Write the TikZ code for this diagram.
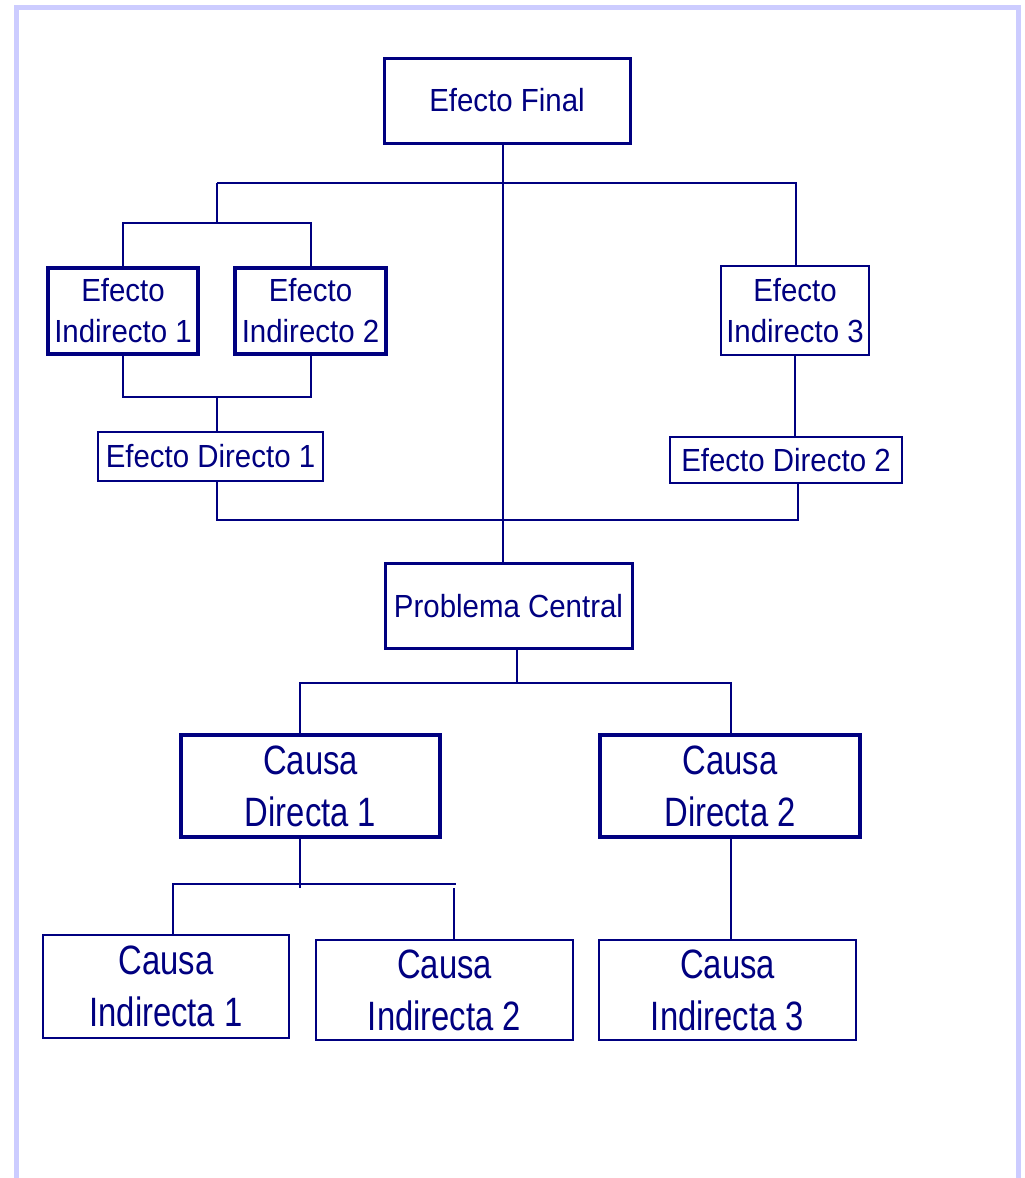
\documentclass[tikz,border=0pt]{standalone}
\usepackage{fontspec}
\setmainfont{Liberation Sans}
\newfontfamily\efont[FakeStretch=0.92]{Liberation Sans}
\newfontfamily\cfont[FakeStretch=0.8]{Liberation Sans}
\definecolor{navyline}{RGB}{0,0,128}
\definecolor{frameline}{RGB}{204,204,255}
\begin{document}
\begin{tikzpicture}[x=1pt,y=-1pt,line width=2pt,draw=navyline,
	box/.style={draw=navyline,text=navyline,align=center,inner sep=0pt},
	efbox/.style={box,font=\efont\fontsize{32}{41}\selectfont},
	cabox/.style={box,font=\cfont\fontsize{41}{52}\selectfont}]
		\useasboundingbox (0,0) rectangle (1025,1178);
		\draw [frameline,line width=5pt] (16,1178) -- (16,7) -- (1018,7) -- (1018,1178);
		
		% efectos
		\node [efbox,line width=3pt,minimum width=246,minimum height=85] (final) at (507,100.5) {Efecto Final};
		\node [efbox,line width=3.5pt,minimum width=150,minimum height=86] (ei1) at (123,311) {Efecto\\Indirecto 1};
		\node [efbox,line width=3.5pt,minimum width=151,minimum height=86] (ei2) at (310.5,311) {Efecto\\Indirecto 2};
		\node [efbox,minimum width=148,minimum height=89] (ei3) at (795,310.5) {Efecto\\Indirecto 3};
		\node [efbox,line width=1.8pt,minimum width=225,minimum height=49] (ed1) at (210.5,456.5) {Efecto Directo 1};
		\node [efbox,minimum width=232,minimum height=46] (ed2) at (786,460) {Efecto Directo 2};
		\node [efbox,line width=3pt,minimum width=247,minimum height=85] (pc) at (508.5,606) {Problema Central};
		
		% causas
		\node [cabox,line width=3.5pt,minimum width=259,minimum height=102] (cd1) at (310.5,786) {Causa\\Directa 1};
		\node [cabox,line width=3.5pt,minimum width=260,minimum height=102] (cd2) at (730,786) {Causa\\Directa 2};
		\node [cabox,line width=2.5pt,minimum width=246,minimum height=103] (ci1) at (166,986.5) {Causa\\Indirecta 1};
		\node [cabox,line width=2.5pt,minimum width=257,minimum height=100] (ci2) at (444.5,990) {Causa\\Indirecta 2};
		\node [cabox,line width=2.5pt,minimum width=257,minimum height=100] (ci3) at (727.5,990) {Causa\\Indirecta 3};
		
		\coordinate (c0) at (503,0);
		\coordinate (tl) at (217,183); \coordinate (tr) at (796,183);
		\coordinate (j1) at (217,223); \coordinate (j2) at (217,397);
		\coordinate (bl) at (217,520); \coordinate (br) at (798,520);
		\coordinate (k0) at (517,683); \coordinate (k1) at (300,683); \coordinate (k2) at (731,683);
		\coordinate (m0) at (300,888); \coordinate (m1) at (173,884); \coordinate (m2) at (456,884);
		\coordinate (m3) at (454,888);
		
		\draw (c0 |- final.south) -- (c0 |- pc.north);
		\draw (tl) -- (tr) -- (tr |- ei3.north);
		\draw (tl) -- (j1);
		\draw (ei1.north) |- (j1) -| (ei2.north);
		\draw (ei1.south) |- (j2) -| (ei2.south);
		\draw (j2) -- (j2 |- ed1.north);
		\draw (ei3.south) -- (ei3.south |- ed2.north);
		\draw (bl |- ed1.south) -- (bl) -- (br) -- (br |- ed2.south);
		
		\draw (k0 |- pc.south) -- (k0);
		\draw (k1 |- cd1.north) -- (k1) -- (k2) -- (k2 |- cd2.north);
		\draw (m0 |- cd1.south) -- (m0);
		\draw (m1 |- ci1.north) -- (m1) -- (m2);
		\draw (m3) -- (m3 |- ci2.north);
		\draw (k2 |- cd2.south) -- (k2 |- ci3.north);
		\end{tikzpicture}
\end{document}
